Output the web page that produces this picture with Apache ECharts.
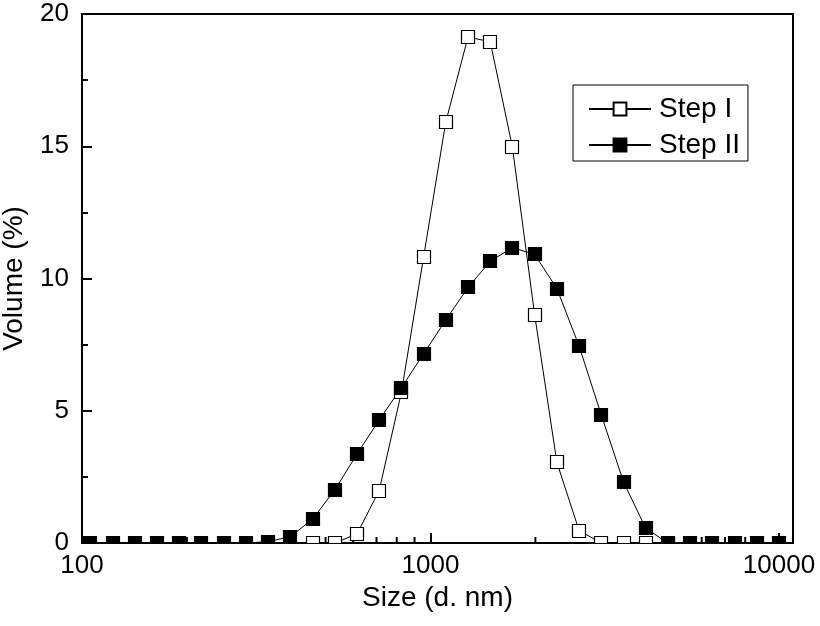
<!DOCTYPE html>
<html>
<head>
<meta charset="utf-8">
<script src="https://cdn.jsdelivr.net/npm/echarts@6/dist/echarts.min.js"></script>
<style>
html,body{margin:0;padding:0;background:#fff;}
#chart{width:820px;height:626px;}
</style>
</head>
<body>
<div id="chart"></div>
<script>
// Size bins (d. nm)
const stepISizes = [458.7, 531.2, 615.1, 712.4, 825.0, 955.4, 1106, 1281, 1484, 1718, 1990, 2305, 2669, 3091, 3580, 4145];
const stepIValues = [0, 0, 0.34, 1.98, 5.69, 10.81, 15.91, 19.13, 18.95, 14.97, 8.63, 3.05, 0.47, 0, 0, 0];

const stepIISizes = [105.7, 122.4, 141.8, 164.2, 190.1, 220.2, 255.0, 295.3, 342.0, 396.1, 458.7, 531.2, 615.1, 712.4, 825.0, 955.4, 1106, 1281, 1484, 1718, 1990, 2305, 2669, 3091, 3580, 4145, 4801, 5560, 6439, 7456, 8635, 10000];
const stepIIValues = [0, 0, 0, 0, 0, 0, 0, 0, 0.05, 0.24, 0.90, 2.00, 3.36, 4.65, 5.87, 7.15, 8.43, 9.66, 10.65, 11.17, 10.91, 9.62, 7.45, 4.84, 2.31, 0.56, 0, 0, 0, 0, 0, 0];

const xMajorLabels = [100, 1000, 10000];
const xMinorTicks = [200, 300, 400, 500, 600, 700, 800, 900, 2000, 3000, 4000, 5000, 6000, 7000, 8000, 9000];

const FONT = '"Liberation Sans", Arial, sans-serif';

const pairs = (xs, ys) => xs.map((x, i) => [x, ys[i]]);
const dataI = pairs(stepISizes, stepIValues);
const dataII = pairs(stepIISizes, stepIIValues);

function markerRenderer(filled) {
  return function (params, api) {
    const p = api.coord([api.value(0), api.value(1)]);
    const s = 14;
    return {
      type: 'rect',
      shape: { x: Math.round(p[0] - s / 2) + 0.5, y: Math.round(p[1] - s / 2) + 0.5, width: s - 1, height: s - 1 },
      style: { fill: filled ? '#000' : '#fff', stroke: '#000', lineWidth: 1.2 }
    };
  };
}

function minorTickRenderer(params, api) {
  const p = api.coord([api.value(0), 0]);
  return {
    type: 'line',
    shape: { x1: p[0], y1: p[1], x2: p[0], y2: p[1] - 6 },
    style: { stroke: '#000', lineWidth: 2 }
  };
}

const chart = echarts.init(document.getElementById('chart'), null, { renderer: 'canvas' });
chart.setOption({
  animation: false,
  backgroundColor: '#fff',
  color: ['#000', '#000'],
  grid: {
    left: 82, top: 14, width: 711, height: 529,
    outerBoundsMode: 'none', containLabel: false,
    show: true, borderColor: '#000', borderWidth: 2, backgroundColor: 'transparent'
  },
  legend: {
    orient: 'vertical',
    left: 573, top: 85,
    data: ['Step I', 'Step II'],
    itemWidth: 62, itemHeight: 16, itemGap: 8,
    padding: [10, 8, 2, 15],
    borderColor: '#000', borderWidth: 1,
    textStyle: { fontFamily: FONT, fontSize: 28, color: '#000', padding: [0, 0, 0, 3] }
  },
  xAxis: {
    type: 'log', logBase: 10, min: 100, max: 10970,
    name: 'Size (d. nm)', nameLocation: 'middle', nameGap: 38,
    nameTextStyle: { fontFamily: FONT, fontSize: 28, color: '#000' },
    axisLine: { show: true, lineStyle: { color: '#000', width: 2 } },
    axisTick: { show: true, inside: true, length: 10, lineStyle: { color: '#000', width: 2 } },
    axisLabel: {
      fontFamily: FONT, fontSize: 26, color: '#000', margin: 10,
      formatter: function (v) {
        const r = Math.round(v);
        return xMajorLabels.indexOf(r) >= 0 ? String(r) : '';
      }
    },
    splitLine: { show: false }
  },
  yAxis: {
    type: 'value', min: 0, max: 20, interval: 5,
    name: 'Volume (%)', nameLocation: 'middle', nameGap: 54,
    nameTextStyle: { fontFamily: FONT, fontSize: 28, color: '#000' },
    axisLine: { show: true, lineStyle: { color: '#000', width: 2 } },
    axisTick: { show: true, inside: true, length: 10, lineStyle: { color: '#000', width: 2 } },
    minorTick: { show: true, splitNumber: 2, length: 6, lineStyle: { color: '#000', width: 2 } },
    axisLabel: { fontFamily: FONT, fontSize: 26, color: '#000', margin: 13 },
    splitLine: { show: false }
  },
  series: [
    {
      name: 'Step I', type: 'line', data: dataI,
      symbol: 'rect', showSymbol: false, clip: true, z: 2,
      lineStyle: { color: '#000', width: 1 },
      itemStyle: { color: '#fff', borderColor: '#000', borderWidth: 1 }
    },
    {
      name: 'Step II', type: 'line', data: dataII,
      symbol: 'rect', showSymbol: false, clip: true, z: 2,
      lineStyle: { color: '#000', width: 1 },
      itemStyle: { color: '#000', borderColor: '#000', borderWidth: 1 }
    },
    {
      name: 'Step I markers', type: 'custom', data: dataI, clip: true, z: 3,
      encode: { x: 0, y: 1 }, renderItem: markerRenderer(false), silent: true
    },
    {
      name: 'Step II markers', type: 'custom', data: dataII, clip: true, z: 4,
      encode: { x: 0, y: 1 }, renderItem: markerRenderer(true), silent: true
    },
    {
      name: 'x minor ticks', type: 'custom', data: xMinorTicks.map(v => [v]), clip: true, z: 1,
      encode: { x: 0 }, renderItem: minorTickRenderer, silent: true
    }
  ]
});
</script>
</body>
</html>
